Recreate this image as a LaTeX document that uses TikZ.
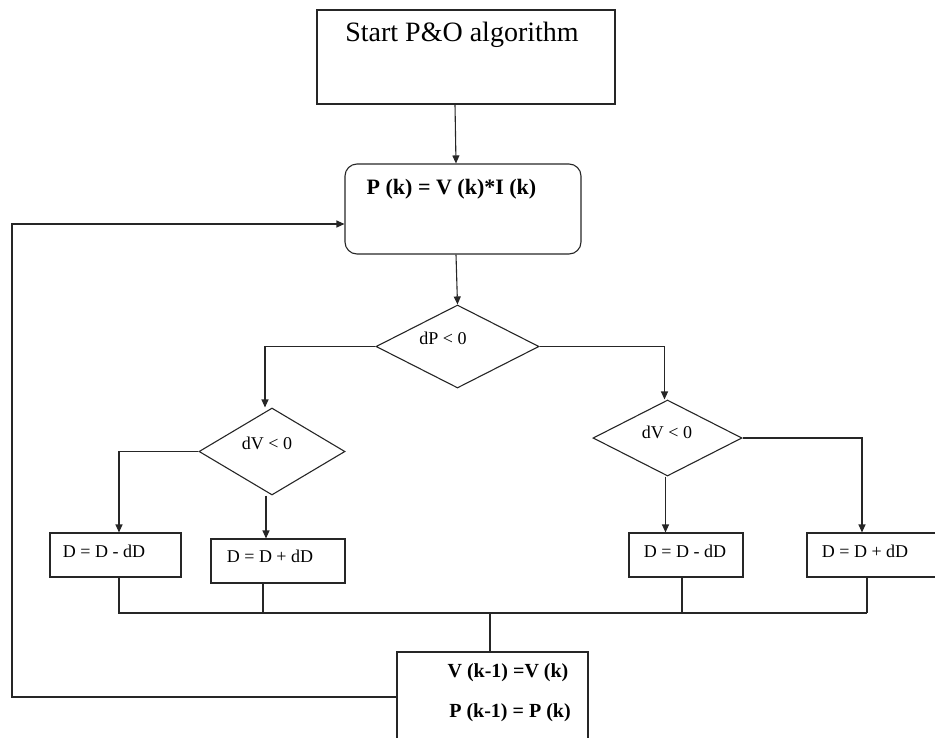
\documentclass[tikz,border=0pt]{standalone}
\usepackage{fontspec}
\setmainfont{Liberation Serif}
\usetikzlibrary{arrows.meta,shapes.geometric}
\tikzset{
  ln/.style={line width=1.1pt, draw=black!85},
  arr/.style={ln, -{Triangle[length=8pt,width=7pt]}},
  box/.style={ln, rectangle, inner sep=0pt},
  dia/.style={ln, diamond, inner sep=0pt},
  txt/.style={inner sep=0pt, font=\fontsize{18}{20}\selectfont},
  btxt/.style={inner sep=0pt, font=\fontsize{20}{22}\selectfont\bfseries},
}
\begin{document}
\begin{tikzpicture}[x=1pt,y=-1pt]
\useasboundingbox (0,0) rectangle (935,737);
% shapes
\node[box, minimum width=298pt, minimum height=94pt] (start) at (466,57) {};
\node[box, rounded corners=12pt, minimum width=236pt, minimum height=90pt] (pk) at (463,209) {};
\node[dia, minimum width=163pt, minimum height=83pt] (dP) at (457.5,346.5) {};
\node[dia, minimum width=146pt, minimum height=87pt] (dVL) at (272,451.5) {};
\node[dia, minimum width=149pt, minimum height=76pt] (dVR) at (667.5,438) {};
\node[box, minimum width=131pt, minimum height=44pt] (b1) at (115.5,555) {};
\node[box, minimum width=134pt, minimum height=44pt] (b2) at (278,561) {};
\node[box, minimum width=114pt, minimum height=44pt] (b3) at (686,555) {};
\node[box, minimum width=130pt, minimum height=44pt] (b4) at (872,555) {};
\node[box, minimum width=191pt, minimum height=90pt] (fin) at (492.5,697) {};
% texts
\node[inner sep=0pt, font=\fontsize{28}{30}\selectfont] (tstart) at (462,35) {Start P\&O algorithm};
\node[btxt, font=\fontsize{22}{24}\selectfont\bfseries] (tpk) at (451.5,189) {P (k) = V (k)*I (k)};
\node[txt] (tdP) at (443,338) {dP {<} 0};
\node[txt] (tdVL) at (267,443) {dV {<} 0};
\node[txt] (tdVR) at (667,432) {dV {<} 0};
\node[txt] (tb1) at (104,551) {D = D - dD};
\node[txt] (tb2) at (270,556) {D = D + dD};
\node[txt] (tb3) at (685,551) {D = D - dD};
\node[txt] (tb4) at (865,551) {D = D + dD};
\node[btxt] (tf1) at (508,673) {V (k-1) =V (k)};
\node[btxt] (tf2) at (510,713) {P (k-1) = P (k)};
% connectors
\coordinate (busR) at (867,613);
\coordinate (fbx) at (12,697);
\draw[arr] ([xshift=-11pt]start.south) -- ([xshift=-7pt]pk.north);
\draw[arr] ([xshift=-7pt]pk.south) -- (dP.north);
\draw[arr] (dP.west) -| ([xshift=-7pt]dVL.north);
\draw[arr] (dP.east) -| ([xshift=-3pt]dVR.north);
\draw[arr] (dVL.west) -| ([xshift=3.5pt]b1.north);
\draw[arr] ([xshift=-6pt]dVL.south) -- ([xshift=-6pt]dVL.south |- b2.north);
\draw[arr] ([xshift=-2pt]dVR.south) -- ([xshift=-2pt]dVR.south |- b3.north);
\draw[arr] (dVR.east) -| ([xshift=-10pt]b4.north);
\draw[ln] ([xshift=3.5pt]b1.south) |- (busR);
\draw[ln] ([xshift=-5pt]b4.south) -- (busR);
\draw[ln] ([xshift=-15pt]b2.south) -- ([xshift=-15pt]b2.south |- busR);
\draw[ln] ([xshift=-4pt]b3.south) -- ([xshift=-4pt]b3.south |- busR);
\draw[ln] ([xshift=-2.5pt]fin.north |- busR) -- ([xshift=-2.5pt]fin.north);
\draw[arr] (fin.west) -- (fbx) |- ([yshift=-15pt]pk.west);
\end{tikzpicture}
\end{document}
